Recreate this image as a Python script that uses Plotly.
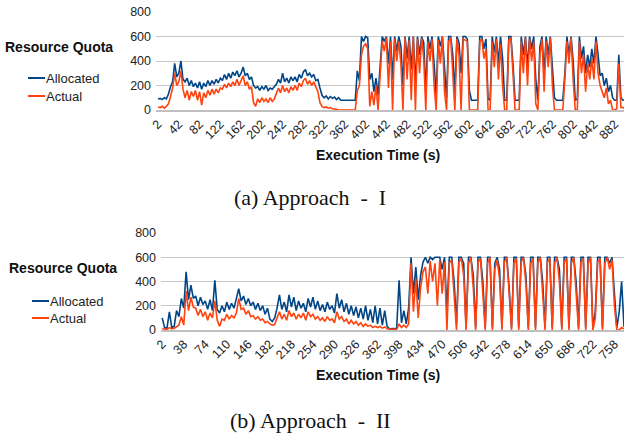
import plotly.graph_objects as go

# ---------------- data (sampled every 4 s) ----------------
# Approach I
alloc_1 = [
    90, 95, 85, 100, 90, 130, 190, 230, 380, 270,
    300, 400, 250, 230, 260, 200, 240, 190, 220, 180,
    230, 170, 220, 190, 240, 200, 240, 210, 250, 220,
    260, 240, 290, 250, 300, 260, 310, 280, 320, 270,
    300, 350, 280, 300, 250, 270, 200, 180, 190, 160,
    190, 170, 200, 160, 180, 170, 190, 210, 250, 220,
    300, 230, 260, 220, 270, 240, 270, 230, 290, 260,
    310, 330, 280, 300, 270, 290, 240, 250, 180, 120,
    100, 115, 90, 110, 95, 105, 85, 100, 80, 80,
    80, 80, 80, 80, 80, 80, 320, 240, 600, 560,
    600, 590, 250, 300, 150, 260, 120, 350, 600, 560,
    600, 380, 600, 250, 600, 480, 600, 520, 200, 600,
    420, 600, 330, 600, 200, 600, 450, 600, 550, 150,
    600, 500, 600, 380, 120, 600, 520, 600, 330, 100,
    600, 600, 450, 150, 600, 550, 300, 600, 600, 580,
    160, 80, 80, 80, 80, 600, 600, 500, 580, 90,
    80, 600, 470, 600, 380, 600, 420, 80, 80, 600,
    600, 380, 80, 80, 80, 600, 450, 600, 350, 600,
    500, 600, 250, 80, 520, 600, 300, 600, 450, 600,
    350, 100, 80, 80, 80, 80, 300, 600, 450, 600,
    400, 80, 90, 600, 420, 520, 300, 450, 350, 500,
    380, 600, 450, 280, 300, 200, 260, 150, 200, 100,
    80, 80, 450, 100, 80, 80,
]
actual_1 = [
    25, 20, 30, 15, 30, 50, 110, 180, 300, 200,
    230, 320, 170, 100, 160, 80, 150, 110, 160, 80,
    150, 40, 140, 100, 160, 120, 170, 130, 170, 140,
    180, 170, 210, 180, 220, 190, 230, 200, 250, 200,
    240, 280, 200, 230, 170, 190, 60, 30, 90, 60,
    100, 70, 90, 60, 100, 70, 90, 130, 180, 140,
    200, 150, 180, 140, 190, 160, 200, 160, 220, 190,
    240, 260, 210, 240, 200, 230, 190, 150, 60, 30,
    20, 25, 15, 20, 10, 10, 5, 0, 0, 0,
    0, 0, 0, 0, 0, 0, 160, 200, 450, 520,
    540, 500, 30, 150, 40, 200, 0, 260, 560, 480,
    590, 180, 560, 0, 580, 400, 560, 380, 0, 590,
    250, 570, 80, 600, 0, 580, 300, 590, 420, 0,
    560, 400, 580, 200, 0, 570, 380, 600, 150, 0,
    560, 590, 320, 0, 580, 450, 0, 580, 570, 560,
    0, 0, 0, 0, 0, 560, 580, 420, 500, 0,
    0, 560, 350, 580, 250, 540, 200, 0, 0, 570,
    590, 300, 0, 0, 0, 560, 300, 590, 200, 580,
    400, 560, 50, 0, 450, 580, 150, 560, 350, 590,
    200, 0, 0, 0, 0, 0, 250, 560, 380, 590,
    250, 0, 0, 560, 300, 450, 150, 380, 250, 420,
    250, 560, 300, 200, 150, 100, 180, 50, 80, 0,
    0, 10, 380, 20, 20, 10,
]

# Approach II
alloc_2 = [
    100, 20, 15, 150, 20, 30, 160, 110, 260, 180,
    480, 250, 370, 260, 280, 200, 270, 210, 240, 170,
    250, 160, 410, 170, 140, 200, 150, 230, 170, 220,
    180, 250, 340, 240, 280, 210, 260, 200, 230, 170,
    220, 160, 200, 130, 180, 90, 70, 100, 180, 290,
    170, 230, 150, 290, 190, 270, 160, 240, 180, 220,
    150, 260, 190, 270, 170, 240, 160, 210, 150, 230,
    170, 200, 140, 300, 180, 250, 150, 220, 130, 200,
    120, 190, 100, 180, 90, 200, 80, 170, 60, 200,
    50, 180, 40, 160, 30, 10, 10, 10, 15, 410,
    60, 160, 50, 180, 600, 300, 520, 250, 450, 560,
    600, 550, 600, 580, 600, 600, 600, 500, 600, 150,
    600, 600, 400, 50, 600, 600, 550, 20, 600, 600,
    450, 20, 600, 600, 400, 20, 600, 600, 20, 550,
    600, 500, 20, 600, 600, 350, 20, 600, 600, 20,
    600, 600, 450, 20, 600, 600, 20, 600, 600, 400,
    20, 600, 600, 20, 600, 600, 500, 20, 600, 600,
    20, 600, 600, 400, 20, 600, 600, 20, 600, 600,
    20, 150, 600, 600, 20, 600, 600, 550, 600, 300,
    20, 150, 400, 30, 20,
]
actual_2 = [
    10, 10, 5, 20, 10, 15, 30, 40, 110, 40,
    320, 160, 270, 190, 180, 120, 170, 110, 150, 80,
    140, 100, 240, 80, 30, 90, 80, 130, 90, 120,
    100, 140, 260, 170, 180, 130, 160, 110, 120, 90,
    110, 80, 90, 60, 70, 50, 40, 45, 100, 150,
    90, 130, 80, 160, 110, 140, 90, 130, 100, 140,
    80, 150, 110, 130, 90, 110, 80, 100, 70, 110,
    80, 90, 60, 150, 90, 110, 70, 90, 50, 80,
    50, 70, 40, 60, 30, 50, 30, 40, 20, 30,
    20, 30, 15, 25, 10, 5, 5, 5, 5, 50,
    20, 40, 20, 50, 550, 150, 420, 100, 350, 480,
    520, 300, 570, 400, 550, 200, 580, 300, 560, 0,
    550, 580, 300, 0, 560, 590, 450, 0, 550, 600,
    350, 0, 560, 590, 300, 0, 550, 600, 0, 500,
    580, 420, 0, 560, 600, 250, 0, 550, 590, 0,
    560, 600, 380, 0, 550, 590, 0, 560, 600, 300,
    0, 560, 590, 0, 550, 600, 400, 0, 560, 590,
    0, 550, 600, 300, 0, 560, 590, 0, 550, 600,
    0, 100, 560, 590, 0, 550, 600, 500, 580, 200,
    0, 0, 20, 10, 5,
]

time_1 = list(range(2, 2 + 4 * len(alloc_1), 4))
time_2 = list(range(2, 2 + 4 * len(alloc_2), 4))

ticks_1 = list(range(2, 883, 40))
ticks_2 = list(range(2, 759, 36))
y_ticks = [0, 200, 400, 600, 800]

BLUE = "#004586"
ORANGE = "#ff420e"
W, H = 624, 436

fig = go.Figure()
fig.add_trace(go.Scatter(x=time_1, y=alloc_1, mode="lines", name="Allocated",
                         line=dict(color=BLUE, width=1.6), xaxis="x", yaxis="y"))
fig.add_trace(go.Scatter(x=time_1, y=actual_1, mode="lines", name="Actual",
                         line=dict(color=ORANGE, width=1.6), xaxis="x", yaxis="y"))
fig.add_trace(go.Scatter(x=time_2, y=alloc_2, mode="lines", name="Allocated",
                         line=dict(color=BLUE, width=1.6), xaxis="x2", yaxis="y2"))
fig.add_trace(go.Scatter(x=time_2, y=actual_2, mode="lines", name="Actual",
                         line=dict(color=ORANGE, width=1.6), xaxis="x2", yaxis="y2"))


def py(p):
    return 1 - p / H


def px_(p):
    return p / W


tickfont = dict(family="Liberation Sans, Arial, sans-serif", size=12.5, color="#222")
xcommon = dict(showgrid=False, zeroline=False, showline=True, linecolor="#c0c0c0",
               linewidth=2, ticks="", tickangle=-45, tickfont=tickfont)
ycommon = dict(showgrid=True, gridcolor="#c8c8c8", gridwidth=1, zeroline=False,
               showline=False, tickvals=y_ticks, tickfont=tickfont, range=[0, 800],
               ticks="", ticklabelstandoff=4)

fig.update_layout(
    width=W, height=H, margin=dict(l=0, r=0, t=0, b=0, autoexpand=False),
    paper_bgcolor="white", plot_bgcolor="white", showlegend=False,
    hovermode=False,
    xaxis=dict(domain=[px_(156), px_(624)], range=[-2, 900], tickvals=ticks_1,
               ticktext=[str(v) for v in ticks_1], anchor="y", automargin=False, **xcommon),
    yaxis=dict(domain=[py(110), py(12)], anchor="x", automargin=False, **ycommon),
    xaxis2=dict(domain=[px_(161), px_(624)], range=[0, 774], tickvals=ticks_2,
                ticktext=[str(v) for v in ticks_2], anchor="y2", automargin=False, **xcommon),
    yaxis2=dict(domain=[py(330), py(233)], anchor="x2", automargin=False, **ycommon),
)

bold = dict(family="Liberation Sans, Arial, sans-serif", size=14, color="#111")
legf = dict(family="Liberation Sans, Arial, sans-serif", size=13, color="#222")
serif = dict(family="Liberation Serif, Times New Roman, serif", size=22, color="#111")

annotations = []
shapes = []


def text(x, y, s, font, xanchor="left"):
    annotations.append(dict(x=px_(x), y=py(y), xref="paper", yref="paper", text=s,
                            showarrow=False, font=font, xanchor=xanchor, yanchor="middle",
                            borderpad=0))


def legline(x0, x1, y, color):
    shapes.append(dict(type="line", xref="paper", yref="paper", x0=px_(x0), x1=px_(x1),
                       y0=py(y), y1=py(y), line=dict(color=color, width=2)))


# top panel labels
text(4, 47, "<b>Resource Quota</b>", bold)
legline(28, 45, 78, BLUE)
legline(28, 45, 96, ORANGE)
text(45, 78, "Allocated", legf)
text(45, 96, "Actual", legf)
text(378, 155, "<b>Execution Time (s)</b>", bold, xanchor="center")
text(310, 197, "(a) Approach&nbsp; -&nbsp; I", serif, xanchor="center")

# bottom panel labels
text(8, 268, "<b>Resource Quota</b>", bold)
legline(32, 49, 301, BLUE)
legline(32, 49, 318, ORANGE)
text(49, 301, "Allocated", legf)
text(49, 318, "Actual", legf)
text(378, 375, "<b>Execution Time (s)</b>", bold, xanchor="center")
text(310, 420, "(b) Approach&nbsp; -&nbsp; II", serif, xanchor="center")

fig.update_layout(annotations=annotations, shapes=shapes)
fig.write_html("out.html", config={"displayModeBar": False, "staticPlot": True},
               post_script="document.body.style.margin='0px';document.body.style.overflow='hidden';")
